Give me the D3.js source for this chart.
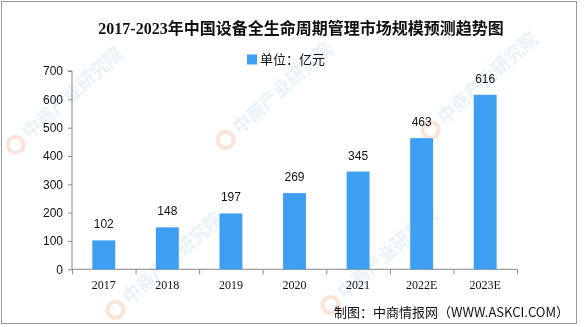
<!DOCTYPE html>
<html><head><meta charset="utf-8">
<script src="https://cdn.jsdelivr.net/npm/d3@7"></script>
<style>body{margin:0;background:#fff}svg{display:block}</style>
</head><body>
<svg id="c" width="585" height="327"></svg>
<script>
const categories = ["2017","2018","2019","2020","2021","2022E","2023E"];
const values = [102,148,197,269,345,463,616];
const yTicks = [0,100,200,300,400,500,600,700];
const title = "2017-2023年中国设备全生命周期管理市场规模预测趋势图";
const legendLabel = "单位：亿元";
const source = "制图：中商情报网（WWW.ASKCI.COM）";

const svg = d3.select("#c");
const W = 585, H = 327;
svg.append("rect").attr("x",0).attr("y",0).attr("width",W).attr("height",H).attr("fill","#fff");

// watermarks (kept fully inside the canvas)
const wm = svg.append("g").attr("opacity",0.5);
const wmPos = [[30,140],[240,135],[445,125],[130,305],[345,300]];
wmPos.forEach(([x,y])=>{
  const g = wm.append("g").attr("transform",`translate(${x},${y}) rotate(-42)`);
  g.append("circle").attr("cx",-14).attr("cy",-6).attr("r",8).attr("fill","none").attr("stroke","#f6c6b4").attr("stroke-width",4);
  g.append("text").attr("x",0).attr("y",0).attr("font-family","Noto Sans CJK SC").attr("font-size",18).attr("font-weight","bold")
   .attr("fill","#cfe3f1").text("中商产业研究院");
});

const x = d3.scaleBand().domain(categories).range([72,517]).paddingInner(0.64).paddingOuter(0.32);
const y = d3.scaleLinear().domain([0,700]).range([269.3,71]);

// border
svg.append("rect").attr("x",1.5).attr("y",1.5).attr("width",575).attr("height",322).attr("fill","none").attr("stroke","#999").attr("stroke-width",1);

svg.append("text").attr("x",301).attr("y",34).attr("text-anchor","middle")
  .attr("font-family","'Liberation Serif','Noto Sans CJK SC'").attr("font-weight","bold").attr("font-size",16).attr("fill","#111").text(title);

svg.append("rect").attr("x",247).attr("y",54.5).attr("width",10).attr("height",10).attr("fill","#3d9ef2");
svg.append("text").attr("x",260).attr("y",64).attr("font-family","'Noto Sans CJK SC'").attr("font-size",13).attr("fill","#111").text(legendLabel);

// y axis
const yAxis = d3.axisLeft(y).tickValues(yTicks).tickSize(4).tickPadding(5);
const gy = svg.append("g").attr("transform","translate(72,0)").call(yAxis);
gy.select(".domain").attr("stroke","#888").attr("d","M-4,71H0V269.3");
gy.selectAll(".tick line").attr("stroke","#888");
gy.selectAll("text").attr("font-family","'Liberation Sans',Arial").attr("font-size",12).attr("fill","#111");

// x axis
const xb = d3.scaleLinear().domain([0,categories.length]).range([72,517]);
const gx = svg.append("g").attr("transform","translate(0,269.3)");
gx.append("line").attr("x1",72).attr("x2",517).attr("stroke","#888");
gx.selectAll(".tk").data(d3.range(categories.length+1)).join("line")
  .attr("x1",d=>xb(d)+0.5).attr("x2",d=>xb(d)+0.5).attr("y1",0).attr("y2",5).attr("stroke","#888");
gx.selectAll(".lb").data(categories).join("text")
  .attr("x",d=>x(d)+x.bandwidth()/2).attr("y",20).attr("text-anchor","middle")
  .attr("font-family","'Liberation Serif','Noto Sans CJK SC'").attr("font-size",12).attr("fill","#111").text(d=>d);

// bars
svg.selectAll(".bar").data(values).join("rect")
  .attr("x",(d,i)=>x(categories[i])).attr("width",x.bandwidth())
  .attr("y",d=>y(d)).attr("height",d=>y(0)-y(d)).attr("fill","#3d9ef2");
svg.selectAll(".val").data(values).join("text")
  .attr("x",(d,i)=>x(categories[i])+x.bandwidth()/2).attr("y",d=>y(d)-12)
  .attr("text-anchor","middle").attr("font-family","'Liberation Sans',Arial").attr("font-size",12).attr("fill","#111").text(d=>d);

svg.append("text").attr("x",569).attr("y",317).attr("text-anchor","end")
  .attr("font-family","'Noto Sans CJK SC'").attr("font-size",13).attr("fill","#111").text(source);
</script>
</body></html>
